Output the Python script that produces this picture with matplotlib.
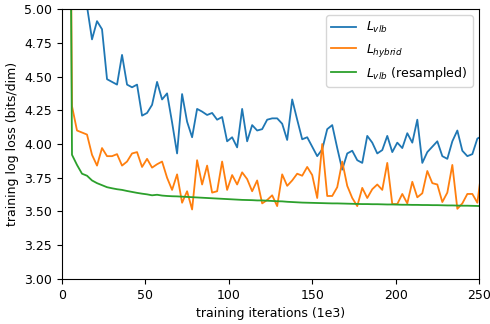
import numpy as np
import matplotlib
matplotlib.use('Agg')
import matplotlib.pyplot as plt

# evaluation points, in thousands of training iterations
iters = np.arange(3, 253, 3)

# training log loss (bits/dim) for each objective
loss_vlb = [
    10.0, 6.5, 5.8, 5.4, 5.02, 4.775, 4.91, 4.85, 4.48, 4.46,
    4.44, 4.66, 4.44, 4.42, 4.44, 4.21, 4.23, 4.29, 4.46, 4.33,
    4.375, 4.16, 3.93, 4.37, 4.165, 4.05, 4.26, 4.24, 4.215, 4.23,
    4.18, 4.20, 4.02, 4.05, 3.975, 4.26, 4.02, 4.14, 4.10, 4.11,
    4.18, 4.19, 4.19, 4.15, 4.03, 4.33, 4.18, 4.035, 4.05, 3.98,
    3.91, 3.96, 4.11, 4.14, 3.97, 3.81, 3.93, 3.95, 3.88, 3.86,
    4.06, 4.01, 3.93, 3.955, 4.06, 3.94, 4.01, 3.97, 4.08, 4.01,
    4.18, 3.86, 3.94, 3.98, 4.02, 3.91, 3.89, 4.02, 4.10, 3.95,
    3.91, 3.925, 4.04, 4.06,
]
loss_hybrid = [
    10.0, 4.28, 4.10, 4.085, 4.07, 3.92, 3.84, 3.97, 3.91, 3.91,
    3.925, 3.84, 3.87, 3.93, 3.94, 3.83, 3.89, 3.825, 3.85, 3.87,
    3.75, 3.66, 3.775, 3.565, 3.65, 3.515, 3.88, 3.70, 3.84, 3.64,
    3.65, 3.87, 3.66, 3.77, 3.70, 3.79, 3.74, 3.65, 3.73, 3.56,
    3.585, 3.62, 3.54, 3.775, 3.69, 3.73, 3.78, 3.765, 3.83, 3.77,
    3.60, 4.00, 3.615, 3.615, 3.68, 3.87, 3.69, 3.60, 3.54, 3.675,
    3.60, 3.665, 3.70, 3.66, 3.86, 3.555, 3.555, 3.63, 3.56, 3.72,
    3.605, 3.635, 3.80, 3.71, 3.70, 3.57, 3.64, 3.845, 3.52, 3.56,
    3.63, 3.63, 3.565, 3.85,
]
loss_vlb_resampled = [
    10.0, 3.92, 3.845, 3.78, 3.765, 3.73, 3.71, 3.695, 3.68, 3.672,
    3.665, 3.66, 3.652, 3.645, 3.638, 3.632, 3.627, 3.62, 3.624, 3.618,
    3.615, 3.613, 3.612, 3.61, 3.608, 3.606, 3.604, 3.602, 3.60, 3.598,
    3.596, 3.594, 3.592, 3.59, 3.588, 3.586, 3.585, 3.584, 3.582, 3.582,
    3.58, 3.578, 3.576, 3.575, 3.572, 3.57, 3.568, 3.566, 3.565, 3.564,
    3.563, 3.562, 3.561, 3.56, 3.56, 3.559, 3.558, 3.557, 3.556, 3.555,
    3.555, 3.554, 3.554, 3.553, 3.552, 3.552, 3.551, 3.55, 3.55, 3.549,
    3.549, 3.548, 3.548, 3.547, 3.547, 3.546, 3.545, 3.545, 3.544, 3.543,
    3.543, 3.542, 3.541, 3.54,
]

plt.rcParams['font.size'] = 9

fig, ax = plt.subplots(figsize=(4.9, 3.24), dpi=100)
fig.subplots_adjust(left=0.1265, right=0.9776, top=0.9722, bottom=0.1389)

ax.plot(iters, loss_vlb, color='tab:blue', lw=1.3, label=r'$L_{vlb}$')
ax.plot(iters, loss_hybrid, color='tab:orange', lw=1.3, label=r'$L_{hybrid}$')
ax.plot(iters, loss_vlb_resampled, color='tab:green', lw=1.3,
        label=r'$L_{vlb}$ (resampled)')

ax.set_xlim(0, 250)
ax.set_ylim(3.0, 5.0)
ax.set_xticks(np.arange(0, 251, 50))
ax.set_yticks(np.arange(3.0, 5.01, 0.25))
ax.yaxis.set_major_formatter(matplotlib.ticker.FormatStrFormatter('%.2f'))
ax.set_xlabel('training iterations (1e3)')
ax.set_ylabel('training log loss (bits/dim)')
ax.legend(loc='upper right')

fig.savefig('out.png', dpi=100)
